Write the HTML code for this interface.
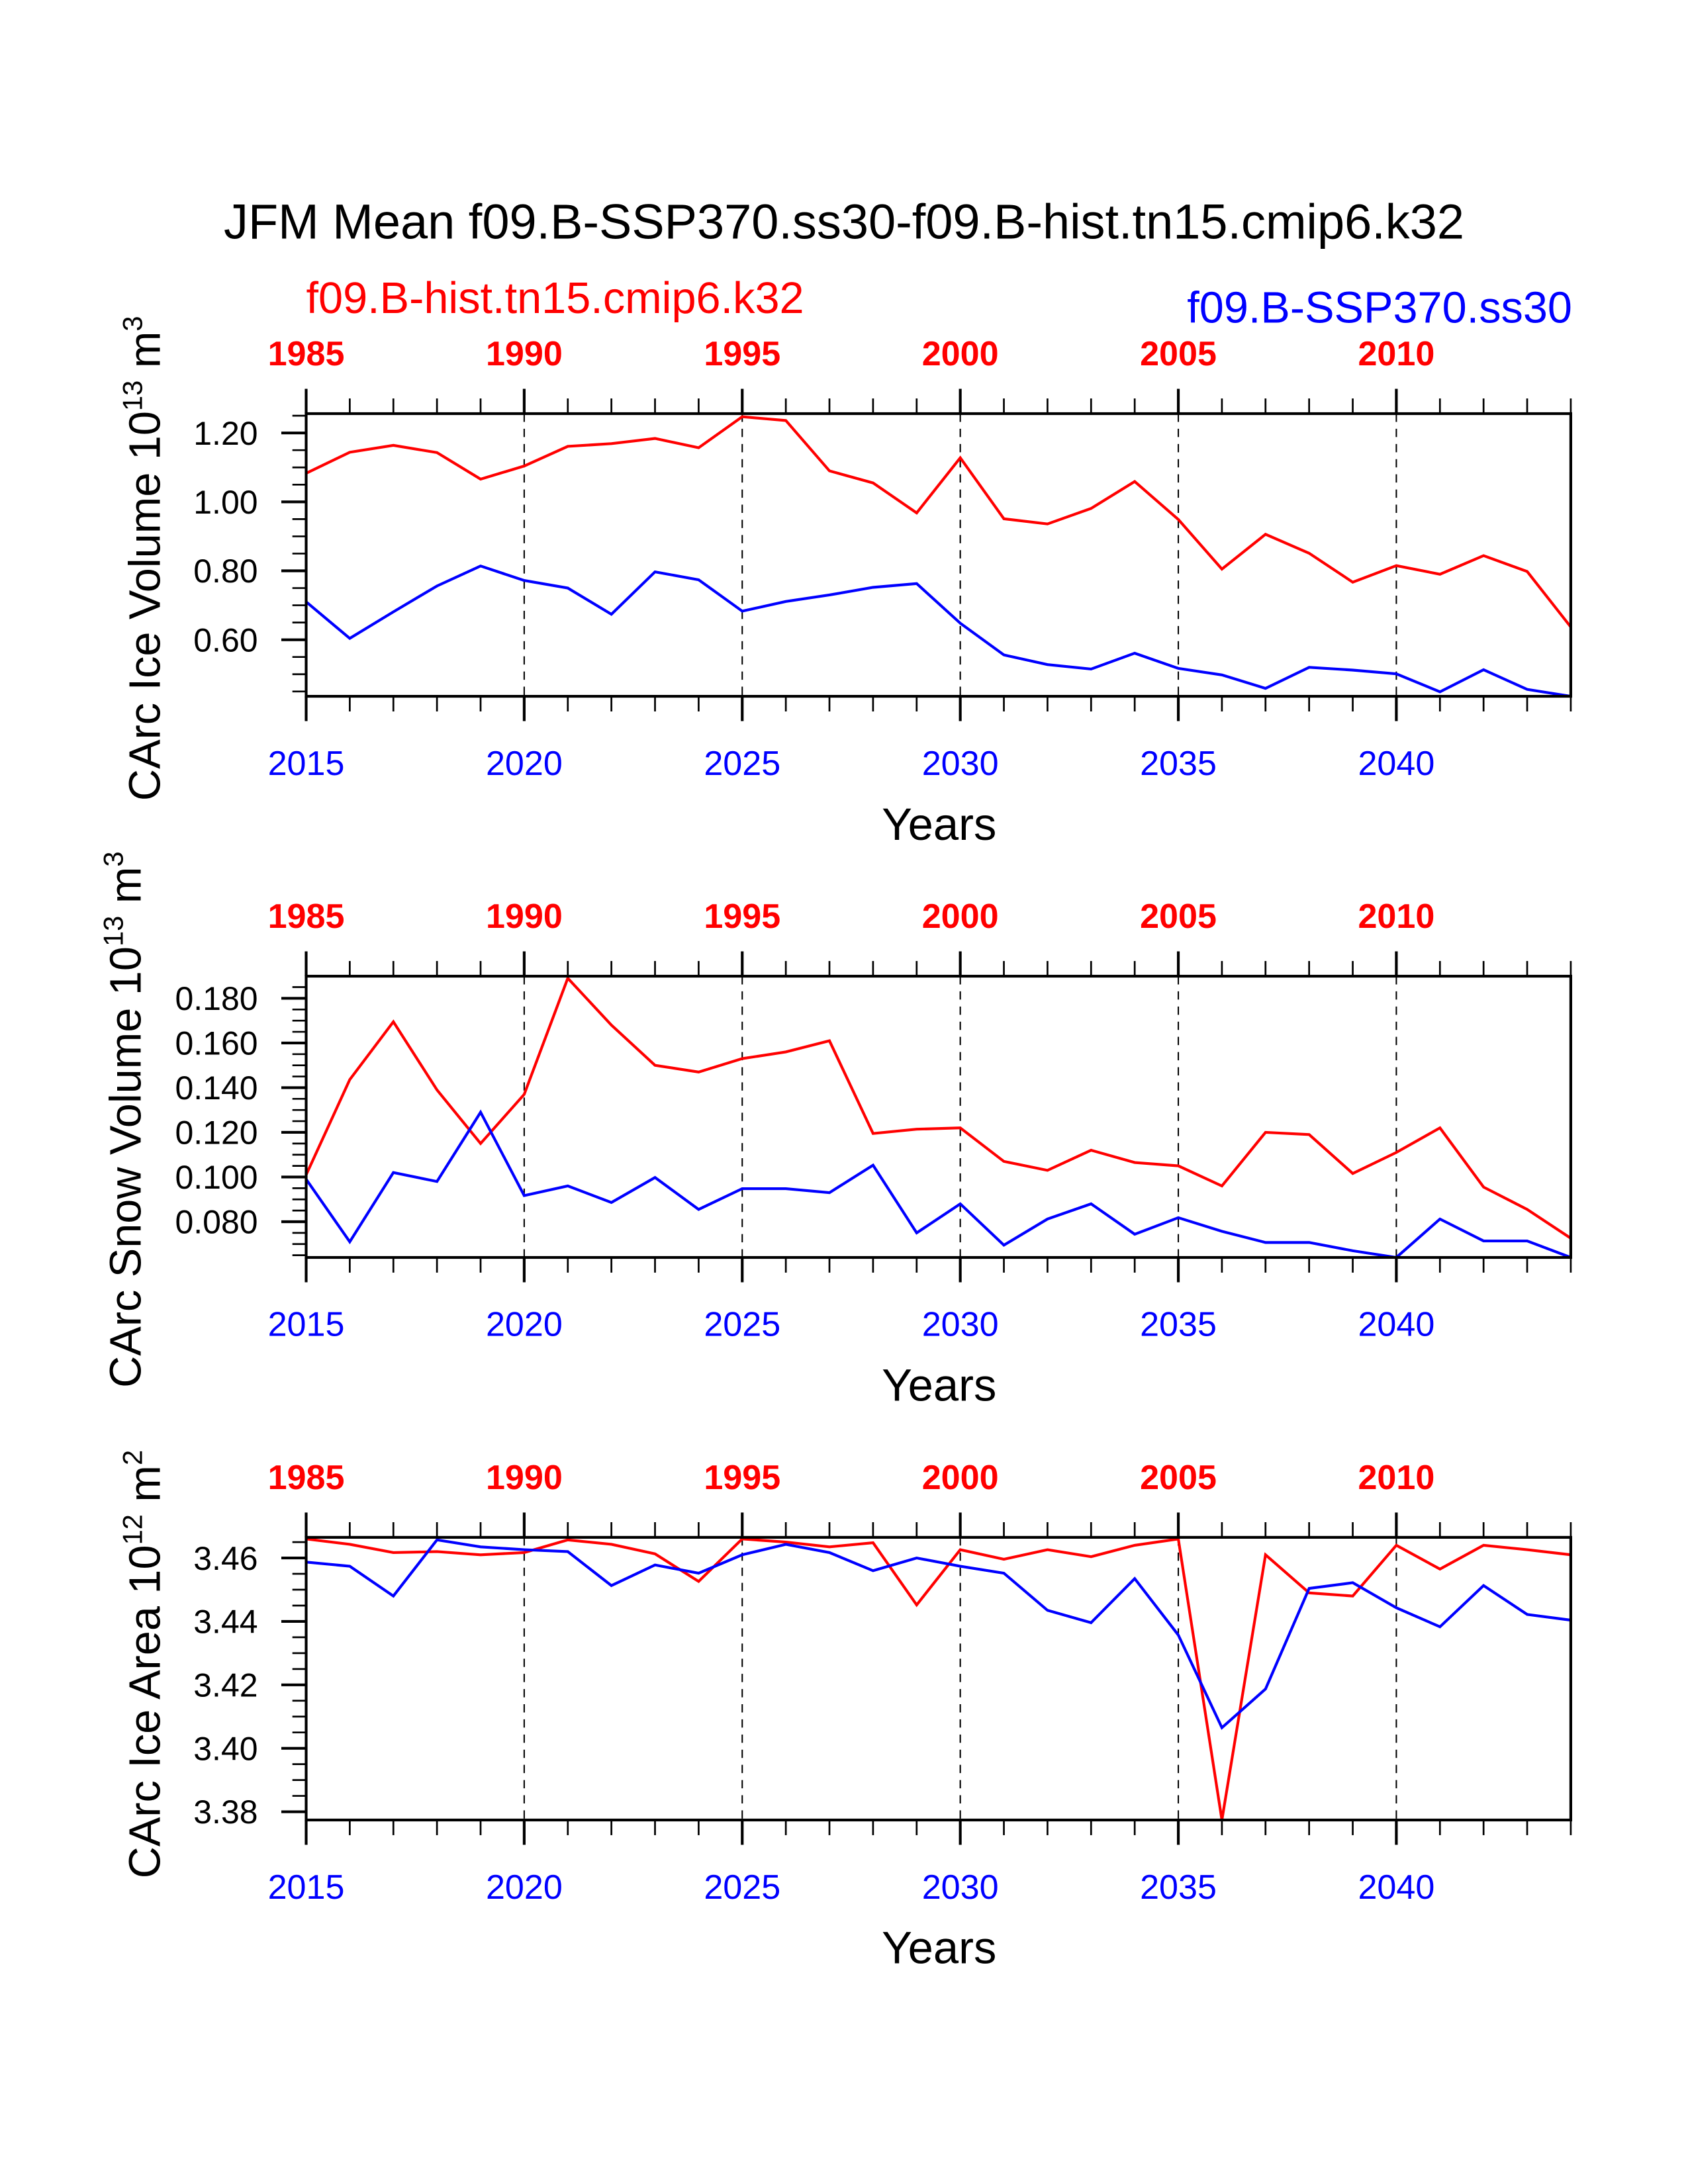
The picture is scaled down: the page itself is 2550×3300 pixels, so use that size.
<!DOCTYPE html>
<html><head><meta charset="utf-8"><style>
html,body{margin:0;padding:0;background:#fff;}
svg{display:block;font-family:"Liberation Sans",Arial,sans-serif;}
</style></head><body>
<svg id="chart" width="2550" height="3300" viewBox="0 0 1224 1584" xmlns="http://www.w3.org/2000/svg">
<rect width="1224" height="1584" fill="#fff"/>
<text x="612" y="173" text-anchor="middle" font-size="35.5">JFM Mean f09.B-SSP370.ss30-f09.B-hist.tn15.cmip6.k32</text>
<text x="222" y="227" font-size="32" fill="#f00">f09.B-hist.tn15.cmip6.k32</text>
<text x="1140" y="234" text-anchor="end" font-size="32" fill="#00f">f09.B-SSP370.ss30</text>
</svg>
<script>
const years = [2015,2016,2017,2018,2019,2020,2021,2022,2023,2024,2025,2026,2027,2028,2029,2030,2031,2032,2033,2034,2035,2036,2037,2038,2039,2040,2041,2042,2043,2044];
const majorYears = [2015,2020,2025,2030,2035,2040];
const topYearLabels = ["1985","1990","1995","2000","2005","2010"];
const iceVolHist = [1.083,1.144,1.164,1.143,1.066,1.104,1.161,1.169,1.184,1.157,1.247,1.236,1.090,1.055,0.968,1.128,0.951,0.936,0.981,1.059,0.949,0.805,0.906,0.851,0.767,0.815,0.790,0.844,0.798,0.637];
const iceVolSsp = [0.710,0.604,0.681,0.756,0.814,0.772,0.750,0.674,0.797,0.774,0.683,0.711,0.730,0.752,0.763,0.648,0.556,0.528,0.515,0.561,0.517,0.498,0.459,0.520,0.512,0.501,0.449,0.513,0.456,0.436];
const snowVolHist = [0.101,0.1436,0.1695,0.139,0.115,0.137,0.189,0.168,0.150,0.147,0.153,0.156,0.161,0.1195,0.1214,0.122,0.107,0.103,0.112,0.1065,0.105,0.096,0.120,0.119,0.1016,0.111,0.122,0.0955,0.0855,0.0726];
const snowVolSsp = [0.099,0.071,0.102,0.098,0.129,0.0917,0.096,0.0886,0.0998,0.0855,0.0948,0.0948,0.093,0.1053,0.075,0.088,0.0695,0.0812,0.088,0.0744,0.0818,0.0757,0.0707,0.0707,0.067,0.064,0.0812,0.0714,0.0714,0.064];
const iceAreaHist = [3.466,3.4643,3.4617,3.462,3.461,3.4617,3.4657,3.4643,3.4613,3.4526,3.466,3.465,3.4635,3.4648,3.4452,3.4626,3.4596,3.4626,3.4604,3.464,3.466,3.3774,3.461,3.449,3.448,3.464,3.4565,3.464,3.4626,3.461];
const iceAreaSsp = [3.4587,3.4574,3.448,3.4657,3.4635,3.4626,3.462,3.4513,3.4578,3.4552,3.461,3.4643,3.4617,3.456,3.46,3.4574,3.4552,3.4435,3.4396,3.4535,3.4357,3.4065,3.4187,3.4504,3.4522,3.4443,3.4383,3.4513,3.4422,3.4404];
const iceVolTicks = ["0.60","0.80","1.00","1.20"];
const snowVolTicks = ["0.080","0.100","0.120","0.140","0.160","0.180"];
const iceAreaTicks = ["3.38","3.40","3.42","3.44","3.46"];

const NS="http://www.w3.org/2000/svg";
const svg=document.getElementById('chart');
function mk(tag,attrs,parent){const e=document.createElementNS(NS,tag);for(const k in attrs)e.setAttribute(k,attrs[k]);(parent||svg).appendChild(e);return e;}
const X0=222,X1=1139,Y_MIN=2015,Y_MAX=2044;
function xs(y){return X0+(y-Y_MIN)/(Y_MAX-Y_MIN)*(X1-X0);}

const panels=[
 {key:'ice-volume',top:300,bot:505,vmin:0.436,vmax:1.256,ticks:iceVolTicks,minor:0.05,hist:iceVolHist,ssp:iceVolSsp,title:'CArc Ice Volume 10',exp:'13',unit:' m',uexp:'3',tx:116,ty:405},
 {key:'snow-volume',top:708,bot:912,vmin:0.064,vmax:0.1899,ticks:snowVolTicks,minor:0.005,hist:snowVolHist,ssp:snowVolSsp,title:'CArc Snow Volume 10',exp:'13',unit:' m',uexp:'3',tx:102,ty:812},
 {key:'ice-area',top:1115,bot:1320,vmin:3.3774,vmax:3.4665,ticks:iceAreaTicks,minor:0.005,hist:iceAreaHist,ssp:iceAreaSsp,title:'CArc Ice Area 10',exp:'12',unit:' m',uexp:'2',tx:116,ty:1207}
];
panels.forEach((p,pi)=>{
 const g=mk('g',{});
 
 
 const ys=v=>p.bot-(v-p.vmin)/(p.vmax-p.vmin)*(p.bot-p.top);
 const cid='clip'+pi;
 const cp=mk('clipPath',{id:cid},g);mk('rect',{x:X0,y:p.top,width:X1-X0,height:p.bot-p.top},cp);
 majorYears.forEach(y=>{if(y===Y_MIN)return;const l=mk('line',{x1:xs(y),x2:xs(y),y1:p.top,y2:p.bot,stroke:'#000','stroke-width':1,'stroke-dasharray':'6,5'},g);
  
  });
 [['hist','#f00',p.hist],['ssp','#00f',p.ssp]].forEach(([n,c,arr])=>{
  const pts=years.map((y,i)=>xs(y).toFixed(2)+','+ys(arr[i]).toFixed(2)).join(' ');
  const pl=mk('polyline',{points:pts,fill:'none',stroke:c,'stroke-width':2,'clip-path':'url(#'+cid+')'},g);
  
  
 });
 const fr=mk('rect',{x:X0,y:p.top,width:X1-X0,height:p.bot-p.top,fill:'none',stroke:'#000','stroke-width':2},g);
 
 
 years.forEach(y=>{const maj=majorYears.includes(y);const L=maj?18:11;
  mk('line',{x1:xs(y),x2:xs(y),y1:p.top,y2:p.top-L,stroke:'#000','stroke-width':maj?2:1.3},g);
  mk('line',{x1:xs(y),x2:xs(y),y1:p.bot,y2:p.bot+L,stroke:'#000','stroke-width':maj?2:1.3},g);});
 majorYears.forEach((y,i)=>{
  const t=mk('text',{x:xs(y),y:p.top-35,'text-anchor':'middle','font-size':25,'font-weight':'bold',fill:'#f00'},g);t.textContent=topYearLabels[i];
  
  
  const b=mk('text',{x:xs(y),y:p.bot+57,'text-anchor':'middle','font-size':25,fill:'#00f'},g);b.textContent=String(y);
  
  
 });
 const first=Math.ceil(p.vmin/p.minor-1e-6);
 for(let k=first;k*p.minor<=p.vmax+1e-9;k++){const v=k*p.minor;mk('line',{x1:X0,x2:X0-10,y1:ys(v),y2:ys(v),stroke:'#000','stroke-width':1.3},g);}
 p.ticks.forEach(s=>{const v=parseFloat(s);
  mk('line',{x1:X0,x2:X0-18,y1:ys(v),y2:ys(v),stroke:'#000','stroke-width':2},g);
  const t=mk('text',{x:X0-35,y:ys(v)+8.5,'text-anchor':'end','font-size':24},g);t.textContent=s;
  
  });
 const yr=mk('text',{x:681,y:p.bot+104,'text-anchor':'middle','font-size':33},g);yr.textContent='Years';
 
 
 const yt=mk('text',{x:0,y:0,'text-anchor':'middle','font-size':32,transform:'translate('+p.tx+','+p.ty+') rotate(-90)'},g);
 
 
 const s1=mk('tspan',{},yt);s1.textContent=p.title;
 const s2=mk('tspan',{dy:-13,'font-size':20},yt);s2.textContent=p.exp;
 const s3=mk('tspan',{dy:13},yt);s3.textContent=p.unit;
 const s4=mk('tspan',{dy:-13,'font-size':20},yt);s4.textContent=p.uexp;
});
</script>
</body></html>
